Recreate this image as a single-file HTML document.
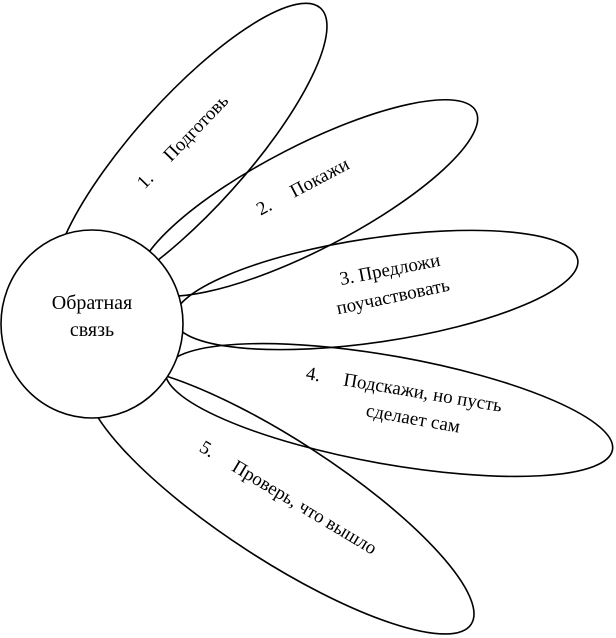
<!DOCTYPE html>
<html><head><meta charset="utf-8"><style>
html,body{margin:0;padding:0;background:#fff;width:616px;height:638px;overflow:hidden;}
svg{display:block;overflow:hidden;}
text{font-family:"Liberation Serif","DejaVu Serif","Noto Serif CJK SC",serif;}
</style></head><body>
<svg width="616" height="638" viewBox="0 0 616 638" xmlns="http://www.w3.org/2000/svg">
<defs><clipPath id="c"><rect x="0" y="0" width="616" height="638"/></clipPath></defs>
<g clip-path="url(#c)">
<g fill="none" stroke="#000" stroke-width="1.6">
<ellipse cx="190" cy="153" rx="195" ry="56" transform="rotate(-48 190 153)"/>
<ellipse cx="308" cy="198" rx="189" ry="52" transform="rotate(-27.3 308 198)"/>
<ellipse cx="376" cy="290" rx="204" ry="52" transform="rotate(-8.5 376 290)"/>
<ellipse cx="389" cy="410" rx="227" ry="54" transform="rotate(10.1 389 410)"/>
<ellipse cx="280" cy="500" rx="228" ry="60" transform="rotate(33 280 500)"/>
</g>
<ellipse cx="92" cy="324" rx="91" ry="94" fill="#fff" stroke="#000" stroke-width="1.6"/>
<g fill="#000" font-size="19" font-family="Liberation Serif, DejaVu Serif, serif">
<text x="92" y="309" text-anchor="middle" font-size="20">Обратная</text>
<text x="92" y="336" text-anchor="middle" font-size="20">связь</text>
<text x="183" y="142" text-anchor="middle" dominant-baseline="central" transform="rotate(-46 183 142)" xml:space="preserve">1.     Подготовь</text>
<text x="303" y="187" text-anchor="middle" dominant-baseline="central" transform="rotate(-28 303 187)" xml:space="preserve">2.     Покажи</text>
<text x="390" y="270" text-anchor="middle" dominant-baseline="central" transform="rotate(-11 390 270)">3. Предложи</text>
<text x="393" y="297" text-anchor="middle" dominant-baseline="central" transform="rotate(-12 393 297)">поучаствовать</text>
<text x="404" y="390" text-anchor="middle" dominant-baseline="central" transform="rotate(9.5 404 390)" xml:space="preserve">4.     Подскажи, но пусть</text>
<text x="413" y="419" text-anchor="middle" dominant-baseline="central" transform="rotate(10 413 419)">сделает сам</text>
<text x="288" y="498" text-anchor="middle" dominant-baseline="central" transform="rotate(31 288 498)" xml:space="preserve">5.     Проверь, что вышло</text>
</g>
</g>
</svg>
</body></html>
